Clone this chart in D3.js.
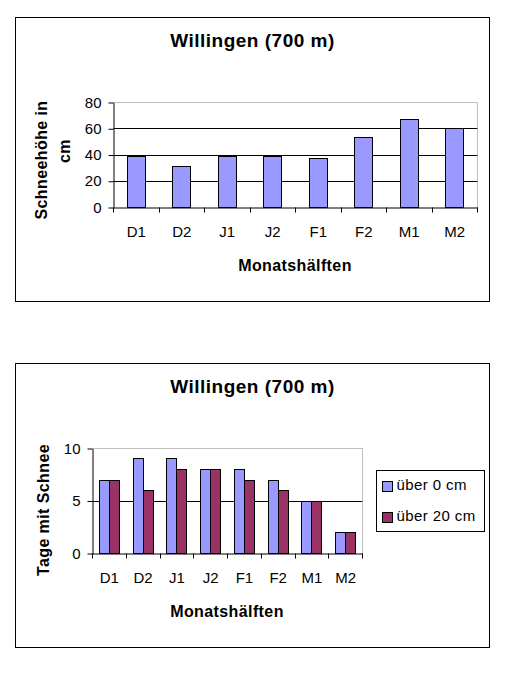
<!DOCTYPE html>
<html>
<head>
<meta charset="utf-8">
<script src="https://cdn.jsdelivr.net/npm/d3@7"></script>
<style>
  body { margin: 0; background: #fff; }
  text { font-family: "Liberation Sans", Arial, sans-serif; fill: #000; }
</style>
</head>
<body>
<svg id="chart" width="510" height="700"></svg>
<script>
// data
const halves = ['D1', 'D2', 'J1', 'J2', 'F1', 'F2', 'M1', 'M2'];
const snowDepth = [39, 31, 39, 39, 37, 53, 67, 60];
const depthTicks = [0, 20, 40, 60, 80];

const seriesNames = ['über 0 cm', 'über 20 cm'];
const daysOver0 = [7, 9, 9, 8, 8, 7, 5, 2];
const daysOver20 = [7, 6, 8, 8, 7, 6, 5, 2];
const dayTicks = [0, 5, 10];
const seriesColors = ['#9999ff', '#993366'];

const svg = d3.select('#chart');

function drawChart(cfg) {
  const g = svg.append('g');

  // outer frame
  g.append('rect')
    .attr('x', cfg.frame.x + 0.5).attr('y', cfg.frame.y + 0.5)
    .attr('width', cfg.frame.w).attr('height', cfg.frame.h)
    .attr('fill', '#fff').attr('stroke', '#000');

  // title
  g.append('text')
    .attr('x', cfg.frame.x + cfg.frame.w / 2 + 0.5)
    .attr('y', cfg.titleY)
    .attr('text-anchor', 'middle')
    .style('font-size', '19px').style('font-weight', 'bold').style('letter-spacing', '0.5px')
    .text('Willingen (700 m)');

  const p = cfg.plot;
  const chart = g.append('g').attr('transform', `translate(${p.x + 0.5},${p.y + 0.5})`);

  const y = d3.scaleLinear().domain([0, cfg.yMax]).range([p.h, 0]);
  const x0 = d3.scaleBand().domain(halves).range([0, p.w])
    .paddingInner(cfg.pad).paddingOuter(cfg.pad / 2);

  // gridlines
  chart.selectAll('.grid')
    .data(cfg.ticks.filter(t => t > 0 && t < cfg.yMax))
    .join('line')
    .attr('x1', 0).attr('x2', p.w)
    .attr('y1', d => Math.round(y(d))).attr('y2', d => Math.round(y(d)))
    .attr('stroke', '#000');

  // dotted top / right border of plot area
  chart.append('path')
    .attr('d', `M0,0H${p.w}V${p.h}`)
    .attr('fill', 'none').attr('stroke', '#808080').attr('stroke-dasharray', '1,1');

  // bars
  cfg.series.forEach((vals, si) => {
    const x1 = d3.scaleBand().domain(d3.range(cfg.series.length)).range([0, x0.bandwidth()]);
    chart.selectAll('.bar' + si)
      .data(vals)
      .join('rect')
      .attr('x', (d, i) => Math.round(x0(halves[i]) + x1(si)))
      .attr('y', d => Math.round(y(d)))
      .attr('width', Math.round(x1.bandwidth()))
      .attr('height', d => Math.round(y(0)) - Math.round(y(d)))
      .attr('fill', seriesColors[si])
      .attr('stroke', '#000');
  });

  // y axis
  const yAxis = d3.axisLeft(y).tickValues(cfg.ticks).tickSize(5).tickPadding(7).tickSizeOuter(0);
  const yG = chart.append('g').call(yAxis);
  yG.select('.domain').attr('stroke', '#000');
  yG.selectAll('.tick line').attr('stroke', '#000');
  yG.selectAll('.tick text')
    .attr('dy', '0.3em')
    .style('font-size', '15px').style('font-family', '"Liberation Sans", Arial, sans-serif');

  // x axis: labels centred, ticks on category boundaries
  const xAxis = d3.axisBottom(x0).tickSize(0).tickPadding(19);
  const xG = chart.append('g').attr('transform', `translate(0,${p.h})`).call(xAxis);
  xG.select('.domain').attr('stroke', '#000');
  xG.selectAll('.tick text')
    .style('font-size', '15px').style('font-family', '"Liberation Sans", Arial, sans-serif');
  const bounds = d3.range(halves.length + 1).map(i => Math.round(i * x0.step()));
  xG.selectAll('.bound')
    .data(bounds)
    .join('line')
    .attr('x1', d => d).attr('x2', d => d)
    .attr('y1', 0).attr('y2', 5)
    .attr('stroke', '#000');

  // axis titles
  g.append('text')
    .attr('x', p.x + p.w / 2).attr('y', cfg.xTitleY)
    .attr('text-anchor', 'middle')
    .style('font-size', '16px').style('font-weight', 'bold').style('letter-spacing', '0.4px')
    .text('Monatshälften');

  cfg.yTitle.forEach(line => {
    g.append('text')
      .attr('transform', `translate(${line.x},${line.y}) rotate(-90)`)
      .attr('text-anchor', 'middle')
      .style('font-size', '16px').style('font-weight', 'bold').style('letter-spacing', '0.4px')
      .text(line.text);
  });

  // legend
  if (cfg.legend) {
    const L = cfg.legend;
    const lg = g.append('g').attr('transform', `translate(${L.x + 0.5},${L.y + 0.5})`);
    lg.append('rect').attr('width', L.w).attr('height', L.h)
      .attr('fill', '#fff').attr('stroke', '#000');
    const items = lg.selectAll('.item').data(seriesNames).join('g')
      .attr('transform', (d, i) => `translate(6,${11 + i * 31})`);
    items.append('rect').attr('width', 10).attr('height', 10)
      .attr('fill', (d, i) => seriesColors[i]).attr('stroke', '#000');
    items.append('text').attr('x', 14).attr('y', 8)
      .style('font-size', '15px').style('letter-spacing', '0.4px')
      .text(d => d);
  }
}

drawChart({
  frame: {x: 15, y: 17, w: 474, h: 284},
  titleY: 47,
  plot: {x: 113, y: 102, w: 364, h: 105},
  yMax: 80,
  ticks: depthTicks,
  pad: 0.6,
  series: [snowDepth],
  xTitleY: 271,
  yTitle: [
    {text: 'Schneehöhe in', x: 47, y: 160},
    {text: 'cm', x: 70, y: 151}
  ]
});

drawChart({
  frame: {x: 15, y: 363, w: 474, h: 284},
  titleY: 393,
  plot: {x: 92, y: 448, w: 270, h: 105},
  yMax: 10,
  ticks: dayTicks,
  pad: 0.4,
  series: [daysOver0, daysOver20],
  xTitleY: 617,
  yTitle: [
    {text: 'Tage mit Schnee', x: 49, y: 510}
  ],
  legend: {x: 376, y: 470, w: 108, h: 61}
});
</script>
</body>
</html>
